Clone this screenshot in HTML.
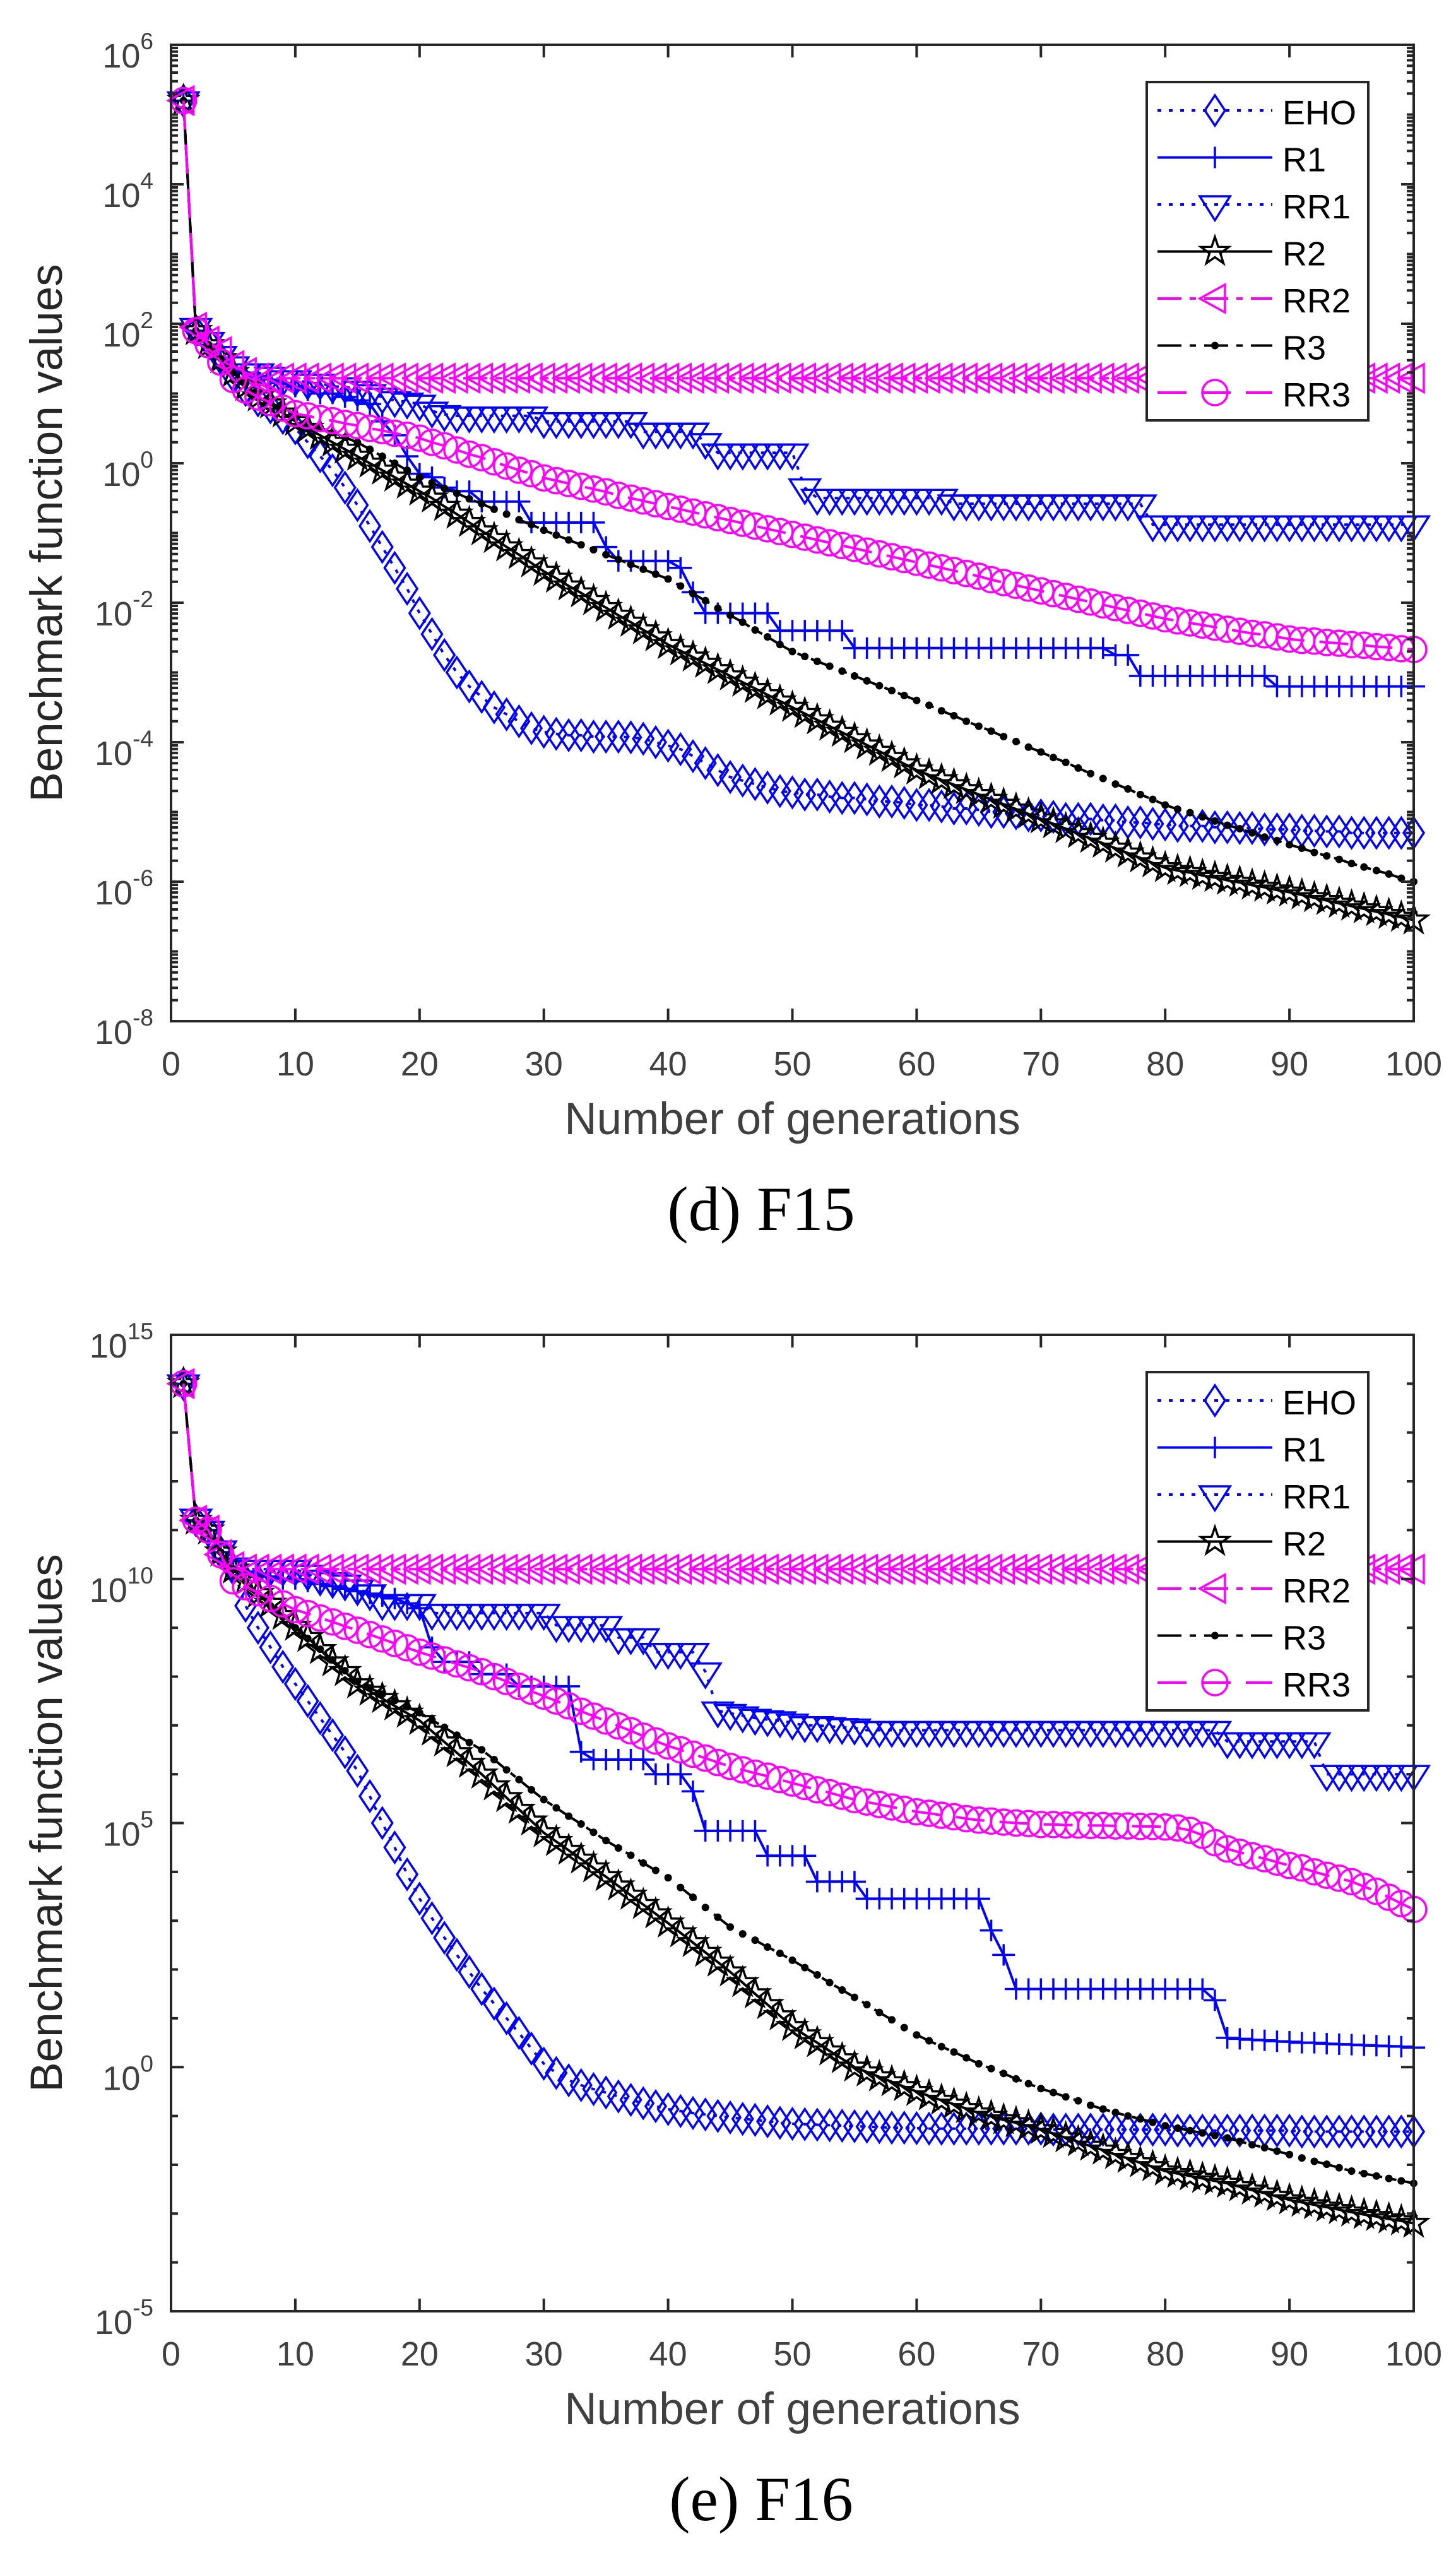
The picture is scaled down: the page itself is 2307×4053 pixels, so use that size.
<!DOCTYPE html>
<html><head><meta charset="utf-8"><title>F15 / F16 convergence</title>
<style>
html,body{margin:0;padding:0;background:#fff;}
svg{display:block;}
</style></head>
<body>
<svg id="fig" xmlns="http://www.w3.org/2000/svg" width="2307" height="4053" viewBox="0 0 2307 4053">
<rect x="0" y="0" width="2307" height="4053" fill="#fff"/>
<text x="1206" y="1949" font-family="Liberation Serif, serif" font-size="100" text-anchor="middle" fill="#000">(d) F15</text>
<text x="1206" y="3993" font-family="Liberation Serif, serif" font-size="100" text-anchor="middle" fill="#000">(e) F16</text>
</svg>
<script>
const gens=[];for(let i=1;i<=100;i++)gens.push(i);
const xTicks=[0,10,20,30,40,50,60,70,80,90,100];
const seriesNames=['EHO','R1','RR1','R2','RR2','R3','RR3'];

// F15 values (log10)
const EHO15=[5.2,1.9,1.75,1.5,1.25,1.05,0.9,0.8,0.65,0.5,0.3,0.1,-0.1,-0.35,-0.6,-0.9,-1.2,-1.5,-1.8,-2.15,-2.45,-2.75,-3.0,-3.2,-3.35,-3.5,-3.6,-3.7,-3.8,-3.85,-3.88,-3.9,-3.9,-3.92,-3.92,-3.92,-3.93,-3.95,-4.0,-4.05,-4.1,-4.2,-4.3,-4.4,-4.5,-4.55,-4.6,-4.65,-4.7,-4.72,-4.75,-4.75,-4.78,-4.8,-4.8,-4.82,-4.85,-4.85,-4.87,-4.9,-4.9,-4.92,-4.95,-4.95,-4.97,-5.0,-5.0,-5.02,-5.05,-5.05,-5.07,-5.1,-5.1,-5.1,-5.12,-5.12,-5.15,-5.15,-5.17,-5.18,-5.2,-5.2,-5.2,-5.22,-5.22,-5.23,-5.23,-5.25,-5.25,-5.25,-5.27,-5.27,-5.28,-5.28,-5.3,-5.3,-5.3,-5.3,-5.3,-5.3];
const R1_15=[5.2,1.9,1.7,1.5,1.35,1.3,1.25,1.2,1.15,1.1,1.05,1.0,1.0,0.95,0.9,0.85,0.6,0.4,0.1,-0.15,-0.2,-0.35,-0.4,-0.4,-0.55,-0.55,-0.55,-0.55,-0.85,-0.85,-0.85,-0.85,-0.85,-0.85,-1.2,-1.4,-1.4,-1.4,-1.4,-1.4,-1.5,-1.85,-2.15,-2.15,-2.15,-2.15,-2.15,-2.15,-2.4,-2.4,-2.4,-2.4,-2.4,-2.4,-2.65,-2.65,-2.65,-2.65,-2.65,-2.65,-2.65,-2.65,-2.65,-2.65,-2.65,-2.65,-2.65,-2.65,-2.65,-2.65,-2.65,-2.65,-2.65,-2.65,-2.65,-2.75,-2.75,-3.05,-3.05,-3.05,-3.05,-3.05,-3.05,-3.05,-3.05,-3.05,-3.05,-3.05,-3.2,-3.2,-3.2,-3.2,-3.2,-3.2,-3.2,-3.2,-3.2,-3.2,-3.2,-3.2];
const RR1_15=[5.2,1.95,1.75,1.55,1.4,1.3,1.3,1.25,1.2,1.2,1.15,1.15,1.1,1.1,1.05,1.0,0.95,0.9,0.88,0.85,0.75,0.7,0.68,0.68,0.68,0.68,0.68,0.68,0.68,0.6,0.6,0.6,0.6,0.6,0.6,0.6,0.6,0.45,0.45,0.45,0.45,0.45,0.3,0.15,0.15,0.15,0.15,0.15,0.15,0.15,-0.35,-0.5,-0.5,-0.5,-0.5,-0.5,-0.5,-0.5,-0.5,-0.5,-0.5,-0.5,-0.58,-0.58,-0.58,-0.58,-0.58,-0.58,-0.58,-0.58,-0.58,-0.58,-0.58,-0.58,-0.58,-0.58,-0.58,-0.58,-0.88,-0.88,-0.88,-0.88,-0.88,-0.88,-0.88,-0.88,-0.88,-0.88,-0.88,-0.88,-0.88,-0.88,-0.88,-0.88,-0.88,-0.88,-0.88,-0.88,-0.88,-0.88];
const R2_15=[5.2,1.9,1.7,1.5,1.3,1.1,0.95,0.85,0.72,0.6,0.5,0.4,0.3,0.2,0.1,0.0,-0.1,-0.2,-0.3,-0.4,-0.5,-0.62,-0.73,-0.85,-0.97,-1.08,-1.2,-1.31,-1.43,-1.55,-1.65,-1.76,-1.86,-1.97,-2.07,-2.18,-2.28,-2.39,-2.49,-2.6,-2.69,-2.78,-2.87,-2.96,-3.05,-3.14,-3.23,-3.32,-3.41,-3.5,-3.59,-3.68,-3.77,-3.86,-3.95,-4.04,-4.13,-4.22,-4.31,-4.4,-4.47,-4.54,-4.61,-4.68,-4.75,-4.82,-4.89,-4.96,-5.03,-5.1,-5.17,-5.24,-5.31,-5.38,-5.45,-5.52,-5.59,-5.66,-5.73,-5.8,-5.84,-5.87,-5.91,-5.94,-5.98,-6.01,-6.05,-6.08,-6.12,-6.15,-6.19,-6.23,-6.27,-6.31,-6.35,-6.39,-6.43,-6.47,-6.51,-6.55];
const RR2_15=[5.2,1.95,1.75,1.6,1.4,1.3,1.22,1.22,1.22,1.22,1.22,1.22,1.22,1.22,1.22,1.22,1.22,1.22,1.22,1.22,1.22,1.22,1.22,1.22,1.22,1.22,1.22,1.22,1.22,1.22,1.22,1.22,1.22,1.22,1.22,1.22,1.22,1.22,1.22,1.22,1.22,1.22,1.22,1.22,1.22,1.22,1.22,1.22,1.22,1.22,1.22,1.22,1.22,1.22,1.22,1.22,1.22,1.22,1.22,1.22,1.22,1.22,1.22,1.22,1.22,1.22,1.22,1.22,1.22,1.22,1.22,1.22,1.22,1.22,1.22,1.22,1.22,1.22,1.22,1.22,1.22,1.22,1.22,1.22,1.22,1.22,1.22,1.22,1.22,1.22,1.22,1.22,1.22,1.22,1.22,1.22,1.22,1.22,1.22,1.22];
const R3_15=[5.2,1.9,1.7,1.5,1.3,1.15,1.0,0.88,0.76,0.65,0.58,0.51,0.44,0.37,0.3,0.2,0.1,0.0,-0.1,-0.2,-0.28,-0.36,-0.43,-0.51,-0.58,-0.66,-0.73,-0.81,-0.88,-0.96,-1.03,-1.1,-1.17,-1.24,-1.31,-1.38,-1.45,-1.52,-1.59,-1.66,-1.76,-1.87,-1.97,-2.08,-2.18,-2.28,-2.39,-2.49,-2.6,-2.7,-2.77,-2.84,-2.91,-2.98,-3.05,-3.12,-3.19,-3.26,-3.33,-3.4,-3.47,-3.55,-3.62,-3.7,-3.77,-3.84,-3.92,-3.99,-4.07,-4.14,-4.22,-4.29,-4.37,-4.45,-4.52,-4.6,-4.67,-4.75,-4.82,-4.9,-4.96,-5.01,-5.07,-5.13,-5.19,-5.24,-5.3,-5.36,-5.41,-5.47,-5.52,-5.58,-5.63,-5.68,-5.74,-5.79,-5.84,-5.89,-5.95,-6.0];
const RR3_15=[5.2,1.9,1.7,1.45,1.2,1.05,0.95,0.87,0.79,0.71,0.68,0.64,0.61,0.57,0.54,0.5,0.47,0.43,0.4,0.36,0.3,0.25,0.19,0.13,0.08,0.02,-0.04,-0.1,-0.15,-0.21,-0.25,-0.29,-0.33,-0.37,-0.41,-0.46,-0.5,-0.54,-0.58,-0.62,-0.66,-0.7,-0.74,-0.78,-0.82,-0.86,-0.9,-0.94,-0.98,-1.02,-1.06,-1.1,-1.14,-1.18,-1.22,-1.26,-1.3,-1.34,-1.38,-1.42,-1.46,-1.5,-1.54,-1.58,-1.62,-1.67,-1.71,-1.75,-1.79,-1.83,-1.87,-1.91,-1.95,-1.99,-2.03,-2.07,-2.11,-2.15,-2.19,-2.23,-2.26,-2.29,-2.32,-2.35,-2.38,-2.41,-2.44,-2.46,-2.49,-2.52,-2.54,-2.55,-2.57,-2.58,-2.6,-2.61,-2.63,-2.64,-2.66,-2.67];

// F16 values (log10)
const EHO16=[14,11.2,11.0,10.55,10.2,9.45,9.0,8.6,8.2,7.85,7.5,7.15,6.8,6.45,6.07,5.55,5.0,4.5,3.95,3.45,3.05,2.65,2.3,1.95,1.6,1.3,1.0,0.7,0.38,0.07,-0.12,-0.27,-0.37,-0.45,-0.52,-0.6,-0.67,-0.74,-0.8,-0.86,-0.9,-0.94,-0.97,-1.0,-1.03,-1.06,-1.08,-1.11,-1.14,-1.16,-1.17,-1.18,-1.19,-1.2,-1.21,-1.22,-1.23,-1.24,-1.24,-1.25,-1.26,-1.26,-1.26,-1.26,-1.26,-1.26,-1.26,-1.26,-1.26,-1.26,-1.28,-1.28,-1.28,-1.28,-1.28,-1.28,-1.28,-1.28,-1.28,-1.28,-1.3,-1.3,-1.3,-1.3,-1.3,-1.3,-1.3,-1.3,-1.3,-1.3,-1.32,-1.32,-1.32,-1.32,-1.32,-1.32,-1.32,-1.32,-1.32,-1.32];
const R1_16=[14,11.2,11.0,10.55,10.2,10.15,10.1,10.05,10.0,10.0,9.95,9.9,9.85,9.8,9.75,9.7,9.65,9.6,9.5,9.4,8.6,8.3,8.3,8.3,8.05,8.05,8.05,7.8,7.8,7.8,7.8,7.8,6.46,6.3,6.3,6.3,6.3,6.3,6.0,6.0,6.0,5.65,4.84,4.84,4.84,4.84,4.84,4.33,4.33,4.33,4.33,3.8,3.8,3.8,3.8,3.45,3.45,3.45,3.45,3.45,3.45,3.45,3.45,3.45,3.45,2.8,2.3,1.6,1.6,1.6,1.6,1.6,1.6,1.6,1.6,1.6,1.6,1.6,1.6,1.6,1.6,1.6,1.6,1.37,0.6,0.58,0.56,0.55,0.53,0.52,0.5,0.5,0.48,0.47,0.46,0.45,0.44,0.43,0.42,0.4];
const RR1_16=[14,11.25,11.0,10.6,10.25,10.2,10.2,10.2,10.2,10.2,10.1,10.0,9.95,9.9,9.8,9.7,9.5,9.5,9.5,9.5,9.3,9.3,9.3,9.3,9.3,9.3,9.3,9.3,9.3,9.3,9.05,9.05,9.05,9.05,9.05,8.8,8.8,8.8,8.5,8.5,8.5,8.5,8.1,7.3,7.25,7.2,7.15,7.12,7.1,7.05,7.0,7.0,6.98,6.96,6.95,6.9,6.9,6.9,6.9,6.9,6.9,6.9,6.9,6.9,6.9,6.9,6.9,6.9,6.9,6.9,6.9,6.9,6.9,6.9,6.9,6.9,6.9,6.9,6.9,6.9,6.9,6.9,6.9,6.9,6.67,6.67,6.67,6.67,6.67,6.67,6.67,6.67,6.0,6.0,6.0,6.0,6.0,6.0,6.0,6.0];
const R2_16=[14,11.2,11.0,10.55,10.2,9.95,9.7,9.5,9.25,9.03,8.8,8.55,8.3,8.1,7.85,7.7,7.55,7.4,7.25,7.1,6.88,6.66,6.44,6.22,6.0,5.76,5.52,5.28,5.04,4.8,4.62,4.44,4.26,4.08,3.9,3.71,3.52,3.33,3.14,2.95,2.75,2.55,2.35,2.15,1.95,1.73,1.5,1.28,1.05,0.83,0.66,0.5,0.33,0.17,0.0,-0.1,-0.2,-0.3,-0.4,-0.5,-0.59,-0.68,-0.76,-0.85,-0.94,-1.01,-1.08,-1.14,-1.21,-1.28,-1.36,-1.45,-1.53,-1.62,-1.7,-1.79,-1.87,-1.96,-2.04,-2.13,-2.18,-2.23,-2.28,-2.33,-2.38,-2.45,-2.52,-2.58,-2.65,-2.72,-2.77,-2.82,-2.87,-2.92,-2.97,-3.02,-3.06,-3.11,-3.15,-3.2];
const RR2_16=[14,11.2,11.0,10.5,10.25,10.2,10.2,10.2,10.2,10.2,10.2,10.2,10.2,10.2,10.2,10.2,10.2,10.2,10.2,10.2,10.2,10.2,10.2,10.2,10.2,10.2,10.2,10.2,10.2,10.2,10.2,10.2,10.2,10.2,10.2,10.2,10.2,10.2,10.2,10.2,10.2,10.2,10.2,10.2,10.2,10.2,10.2,10.2,10.2,10.2,10.2,10.2,10.2,10.2,10.2,10.2,10.2,10.2,10.2,10.2,10.2,10.2,10.2,10.2,10.2,10.2,10.2,10.2,10.2,10.2,10.2,10.2,10.2,10.2,10.2,10.2,10.2,10.2,10.2,10.2,10.2,10.2,10.2,10.2,10.2,10.2,10.2,10.2,10.2,10.2,10.2,10.2,10.2,10.2,10.2,10.2,10.2,10.2,10.2,10.2];
const R3_16=[14,11.2,11.0,10.55,10.2,9.95,9.7,9.45,9.22,9.0,8.78,8.56,8.34,8.12,7.9,7.77,7.64,7.51,7.38,7.26,7.11,6.96,6.8,6.65,6.5,6.3,6.09,5.89,5.68,5.48,5.31,5.14,4.98,4.81,4.64,4.49,4.34,4.18,4.03,3.88,3.68,3.48,3.27,3.07,2.87,2.73,2.6,2.46,2.33,2.19,2.04,1.89,1.73,1.58,1.43,1.28,1.12,0.97,0.81,0.66,0.54,0.42,0.31,0.19,0.07,-0.03,-0.13,-0.24,-0.34,-0.44,-0.52,-0.61,-0.69,-0.78,-0.86,-0.93,-1.0,-1.06,-1.13,-1.2,-1.25,-1.3,-1.35,-1.4,-1.45,-1.52,-1.59,-1.65,-1.72,-1.79,-1.86,-1.93,-1.99,-2.06,-2.13,-2.18,-2.23,-2.28,-2.33,-2.38];
const RR3_16=[14,11.2,11.0,10.5,9.96,9.84,9.72,9.6,9.49,9.37,9.29,9.2,9.12,9.03,8.95,8.86,8.77,8.68,8.59,8.5,8.42,8.34,8.26,8.18,8.1,8.0,7.9,7.8,7.7,7.6,7.5,7.4,7.29,7.19,7.09,6.99,6.89,6.78,6.68,6.58,6.5,6.41,6.33,6.24,6.16,6.09,6.02,5.96,5.89,5.82,5.75,5.68,5.62,5.55,5.48,5.43,5.38,5.33,5.28,5.23,5.2,5.16,5.13,5.09,5.06,5.04,5.02,5.0,4.99,4.97,4.97,4.96,4.96,4.95,4.95,4.94,4.94,4.93,4.93,4.92,4.9,4.85,4.75,4.6,4.47,4.4,4.33,4.27,4.2,4.13,4.08,4.0,3.93,3.87,3.8,3.7,3.6,3.48,3.35,3.23];

const majors15=[6,4,2,0,-2,-4,-6,-8];
const majors16=[15,10,5,0,-5];

const NS='http://www.w3.org/2000/svg';
const svg=document.getElementById('fig');
function mk(tag,attrs,parent){const e=document.createElementNS(NS,tag);for(const k in attrs)e.setAttribute(k,attrs[k]);parent.appendChild(e);return e;}

const styles={
 EHO:{color:'#0000ff',dash:'6,12',marker:'diamond'},
 R1:{color:'#0000ff',dash:'none',marker:'plus'},
 RR1:{color:'#0000ff',dash:'6,12',marker:'tridown'},
 R2:{color:'#000000',dash:'none',marker:'star'},
 RR2:{color:'#ff00ff',dash:'38,13,10,13',marker:'trileft'},
 R3:{color:'#000000',dash:'38,13,10,13',marker:'dot'},
 RR3:{color:'#ff00ff',dash:'46,24',marker:'circle'}
};

function marker(type,cx,cy,color,parent){
  let e;
  if(type==='diamond'){e=mk('polygon',{points:`${cx},${cy-24} ${cx+16},${cy} ${cx},${cy+24} ${cx-16},${cy}`,fill:'none',stroke:color,'stroke-width':3.5},parent);}
  else if(type==='plus'){e=mk('path',{d:`M${cx-18},${cy}H${cx+18}M${cx},${cy-17}V${cy+17}`,fill:'none',stroke:color,'stroke-width':3.5},parent);}
  else if(type==='tridown'){e=mk('polygon',{points:`${cx-24},${cy-13} ${cx+24},${cy-13} ${cx},${cy+25}`,fill:'none',stroke:color,'stroke-width':3.5},parent);}
  else if(type==='trileft'){e=mk('polygon',{points:`${cx-24},${cy} ${cx+16},${cy-22} ${cx+16},${cy+22}`,fill:'none',stroke:color,'stroke-width':3.5},parent);}
  else if(type==='circle'){e=mk('circle',{cx:cx,cy:cy,r:20,fill:'none',stroke:color,'stroke-width':3.5},parent);}
  else if(type==='dot'){e=mk('circle',{cx:cx,cy:cy,r:6,fill:color,stroke:'none'},parent);}
  else {let pts=[];for(let i=0;i<10;i++){const r=i%2?9:23;const a=-Math.PI/2+i*Math.PI/5;pts.push((cx+r*Math.cos(a)).toFixed(1)+','+(cy+r*Math.sin(a)).toFixed(1));}
    e=mk('polygon',{points:pts.join(' '),fill:'none',stroke:color,'stroke-width':3.5},parent);}
  return e;
}

function drawPanel(P){
  const g=mk('g',{},svg);
  
  
  const xs=v=>P.left+(v-0)*(P.right-P.left)/100;
  const ys=v=>P.top+(P.ymax-v)*(P.bottom-P.top)/(P.ymax-P.ymin);
  // series
  seriesNames.forEach((name,si)=>{
    const st=styles[name];const data=P.data[si];
    const sg=mk('g',{},g);
    
    
    let d='';gens.forEach((x,i)=>{d+=(i?'L':'M')+xs(x).toFixed(1)+','+ys(data[i]).toFixed(1);});
    const ln=mk('path',{d:d,fill:'none',stroke:st.color,'stroke-width':4,'stroke-dasharray':st.dash},sg);
    
    
    gens.forEach((x,i)=>{
      const m=marker(st.marker,xs(x),ys(data[i]),st.color,sg);
      
      
    });
  });
  // axes box
  const box=mk('rect',{x:P.left,y:P.top,width:P.right-P.left,height:P.bottom-P.top,fill:'none',stroke:'#262626','stroke-width':4},g);
  
  
  // x ticks
  xTicks.forEach(t=>{
    const x=xs(t);
    const tk=mk('path',{d:`M${x},${P.bottom}v-20M${x},${P.top}v20`,stroke:'#262626','stroke-width':4},g);
    
    
    const tl=mk('text',{x:x,y:P.bottom+86,'font-family':'Liberation Sans, sans-serif','font-size':54,'text-anchor':'middle',fill:'#404040'},g);
    tl.textContent=String(t);
    
    
  });
  // y minor ticks
  let minors=[];
  for(let n=Math.floor(P.ymin);n<P.ymax;n++){
    if(P.sub){for(let k=1;k<=9;k++){const v=n+Math.log10(k);if(!P.majors.includes(v))minors.push(v);}}
    else if(!P.majors.includes(n))minors.push(n);
  }
  minors.forEach(v=>{const y=ys(v);
    const mt=mk('path',{d:`M${P.left},${y}h11M${P.right},${y}h-11`,stroke:'#262626','stroke-width':4},g);
    
    
  });
  P.majors.forEach(v=>{const y=ys(v);
    const mt=mk('path',{d:`M${P.left},${y}h20M${P.right},${y}h-20`,stroke:'#262626','stroke-width':4},g);
    
    
    const tl=mk('text',{x:P.left-28,y:y+36,'font-family':'Liberation Sans, sans-serif','font-size':54,'text-anchor':'end',fill:'#404040'},g);
    
    
    tl.appendChild(document.createTextNode('10'));
    const sp=mk('tspan',{dy:-29,'font-size':37},tl);
    sp.textContent=String(v);
  });
  // axis titles
  const xt=mk('text',{x:(P.left+P.right)/2,y:P.bottom+179,'font-family':'Liberation Sans, sans-serif','font-size':71,'text-anchor':'middle',fill:'#404040'},g);
  xt.textContent='Number of generations';
  
  
  const yt=mk('text',{transform:`translate(98,${(P.top+P.bottom)/2}) rotate(-90)`,'font-family':'Liberation Sans, sans-serif','font-size':71,'text-anchor':'middle',fill:'#262626'},g);
  yt.textContent='Benchmark function values';
  
  
  // legend
  const lg=mk('g',{},g);
  
  
  const lb=mk('rect',{x:1817,y:P.legTop,width:351,height:536,fill:'#fff',stroke:'#262626','stroke-width':4},lg);
  
  
  seriesNames.forEach((name,i)=>{
    const st=styles[name];const cy=P.legTop+45+i*74.5;
    const eg=mk('g',{},lg);
    
    
    mk('line',{x1:1834,x2:2016,y1:cy,y2:cy,stroke:st.color,'stroke-width':4,'stroke-dasharray':st.dash},eg);
    marker(st.marker,1925,cy,st.color,eg);
    const t=mk('text',{x:2032,y:cy+22,'font-family':'Liberation Sans, sans-serif','font-size':54,fill:'#000'},eg);
    t.textContent=name;
  });
}

drawPanel({id:'f15',left:271,right:2240,top:71,bottom:1618,ymax:6,ymin:-8,majors:majors15,sub:true,legTop:130,
  data:[EHO15,R1_15,RR1_15,R2_15,RR2_15,R3_15,RR3_15]});
drawPanel({id:'f16',left:271,right:2240,top:2115,bottom:3662,ymax:15,ymin:-5,majors:majors16,sub:false,legTop:2174,
  data:[EHO16,R1_16,RR1_16,R2_16,RR2_16,R3_16,RR3_16]});
</script>
</body></html>
